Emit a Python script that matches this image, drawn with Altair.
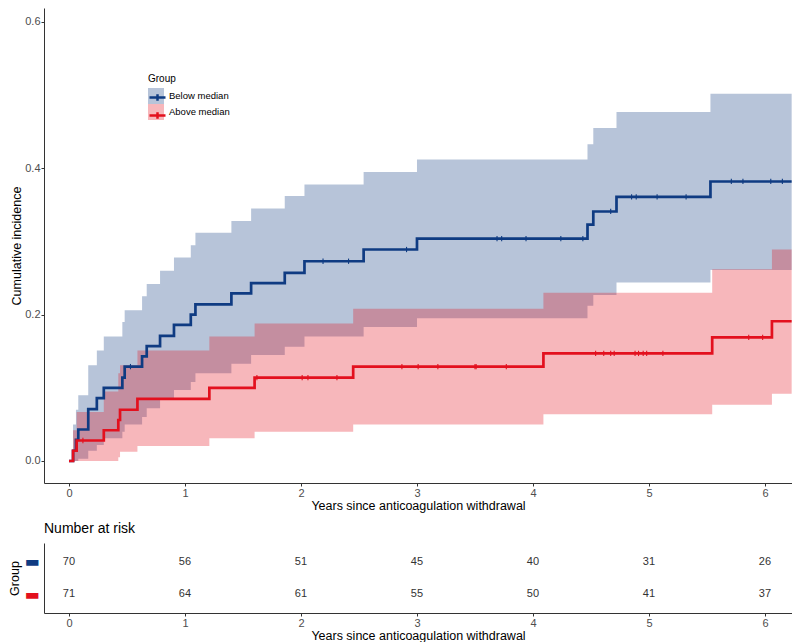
import altair as alt
import pandas as pd

# ---------------- data ----------------
groups = ["Below median", "Above median"]
line_keys = ["Below median ", "Above median "]   # same groups, separate key for the line legend
line_colors = ["#0F3B82", "#E3101E"]

# Below median: step curve of cumulative incidence and its confidence band
below_t = [0, 0.035, 0.06, 0.08, 0.166, 0.24, 0.30, 0.46, 0.48, 0.63, 0.67, 0.785, 0.905,
           1.05, 1.09, 1.40, 1.57, 1.86, 2.03, 2.54, 3.0, 4.47, 4.52, 4.72, 5.53, 6.23]
below_v = [0, 0.014, 0.029, 0.043, 0.071, 0.086, 0.100, 0.114, 0.129, 0.143, 0.157, 0.171, 0.186,
           0.200, 0.214, 0.229, 0.243, 0.257, 0.273, 0.289, 0.304, 0.323, 0.341, 0.361, 0.382, 0.382]
below_lo = [0, 0, 0, 0.003, 0.014, 0.022, 0.031, 0.040, 0.050, 0.060, 0.072, 0.085, 0.097,
            0.108, 0.120, 0.133, 0.145, 0.156, 0.170, 0.183, 0.195, 0.212, 0.227, 0.244, 0.261, 0.261]
below_hi = [0, 0.05, 0.07, 0.09, 0.131, 0.151, 0.170, 0.190, 0.206, 0.225, 0.242, 0.260, 0.278,
            0.295, 0.312, 0.328, 0.345, 0.362, 0.378, 0.395, 0.412, 0.433, 0.455, 0.477, 0.502, 0.502]
below_cens = [0.53, 2.19, 2.41, 2.91, 3.69, 3.73, 3.94, 4.24, 4.43, 4.67, 4.85, 4.89, 5.07,
              5.32, 5.71, 5.81, 6.05, 6.15]

# Above median
above_t = [0, 0.035, 0.066, 0.30, 0.425, 0.44, 0.59, 1.21, 1.60, 2.45, 4.09, 5.545, 6.06, 6.23]
above_v = [0, 0.014, 0.028, 0.042, 0.056, 0.070, 0.085, 0.100, 0.114, 0.129, 0.147, 0.169, 0.191, 0.191]
above_lo = [0, 0, 0, 0, 0.005, 0.0126, 0.0205, 0.031, 0.040, 0.050, 0.064, 0.077, 0.092, 0.092]
above_hi = [0, 0.042, 0.067, 0.095, 0.120, 0.131, 0.151, 0.170, 0.188, 0.208, 0.230, 0.262, 0.289, 0.289]
above_cens = [0.12, 1.62, 2.01, 2.06, 2.31, 2.87, 3.01, 3.18, 3.50, 3.51, 3.77, 4.54, 4.61, 4.67,
              4.70, 4.88, 4.91, 4.95, 4.98, 5.12, 5.86, 5.98]

# Number at risk table
risk_times = [0, 1, 2, 3, 4, 5, 6]
below_risk = [70, 56, 51, 45, 40, 31, 26]
above_risk = [71, 64, 61, 55, 50, 41, 37]

# ---------------- tables ----------------
curve_rows = []
for g, k, ts, vs, los, his in [(groups[0], line_keys[0], below_t, below_v, below_lo, below_hi),
                               (groups[1], line_keys[1], above_t, above_v, above_lo, above_hi)]:
    for t, v, lo, hi in zip(ts, vs, los, his):
        curve_rows.append({"group": g, "line": k, "t": t, "v": v, "lo": lo, "hi": hi})
curves = pd.DataFrame(curve_rows)


def step_value(ts, vs, x):
    val = vs[0]
    for t, v in zip(ts, vs):
        if t <= x:
            val = v
    return val


cens_rows = []
for k, ts, vs, cs in [(line_keys[0], below_t, below_v, below_cens),
                      (line_keys[1], above_t, above_v, above_cens)]:
    for c in cs:
        cens_rows.append({"line": k, "t": c, "v": step_value(ts, vs, c)})
cens = pd.DataFrame(cens_rows)

risk_rows = []
for g, ns in [(groups[0], below_risk), (groups[1], above_risk)]:
    for t, n in zip(risk_times, ns):
        risk_rows.append({"group": g, "t": t, "n": n})
risk = pd.DataFrame(risk_rows)

# ---------------- scales / styles ----------------
FONT = "Liberation Sans"
PLOT_W = 748
x_scale = alt.Scale(domain=[-0.2155, 6.233], nice=False, zero=False)
y_scale = alt.Scale(domain=[-0.0301, 0.6191], nice=False, zero=False)
fill_scale = alt.Scale(domain=groups, range=line_colors)
stroke_scale = alt.Scale(domain=line_keys, range=line_colors)

LEG_X, LEG_Y, LEG_TITLE = 104, 66, 10
fill_legend = alt.Legend(title="Group", orient="none", legendX=LEG_X, legendY=LEG_Y,
                         symbolType="square", symbolSize=256, symbolOpacity=0.3,
                         symbolStrokeWidth=0, titleFontSize=LEG_TITLE, titleFontWeight="normal",
                         titleFont=FONT, labelFont=FONT, labelFontSize=9.5, labelOffset=5,
                         rowPadding=0, titlePadding=4, titleColor="black", labelColor="black")
# line + censor-mark key drawn over the band key (no text of its own)
stroke_legend = alt.Legend(title=None, orient="none", legendX=LEG_X,
                           legendY=LEG_Y + LEG_TITLE + 4,
                           symbolType="M-1,0H1M0,-0.4V0.4", symbolSize=256,
                           symbolStrokeWidth=2.5, symbolFillColor="transparent",
                           labelExpr="''", labelFontSize=9.5, labelOffset=5, rowPadding=0)

x_axis = alt.Axis(title="Years since anticoagulation withdrawal", values=risk_times, format="d",
                  grid=False, domainColor="#333333", tickColor="#333333", tickSize=3,
                  labelPadding=1, labelFontSize=11, labelColor="#4D4D4D", labelFont=FONT,
                  titleFont=FONT, titleFontSize=12.5, titleFontWeight="normal",
                  titlePadding=1, titleColor="black")
y_axis = alt.Axis(title="Cumulative incidence", values=[0, 0.2, 0.4, 0.6], format=".1f",
                  grid=False, domainColor="#333333", tickColor="#333333", tickSize=3,
                  labelPadding=1, labelFontSize=11, labelColor="#4D4D4D", labelFont=FONT,
                  titleFont=FONT, titleFontSize=12.5, titleFontWeight="normal",
                  titlePadding=1, titleColor="black")

base = alt.Chart(curves)
X = alt.X("t:Q", scale=x_scale, axis=x_axis)

bands = []
for g in groups:
    bands.append(
        base.transform_filter(alt.datum.group == g)
        .mark_area(interpolate="step-after", opacity=0.3, clip=True)
        .encode(x=X,
                y=alt.Y("lo:Q", scale=y_scale, axis=y_axis),
                y2="hi:Q",
                fill=alt.Fill("group:N", scale=fill_scale, legend=fill_legend))
    )

lines = base.mark_line(interpolate="step-after", strokeWidth=2.7, clip=True).encode(
    x=X,
    y=alt.Y("v:Q", scale=y_scale, axis=y_axis),
    stroke=alt.Stroke("line:N", scale=stroke_scale, legend=stroke_legend),
)

ticks = alt.Chart(cens).mark_point(shape="M0,-1L0,1", size=28, strokeWidth=1.1,
                                   filled=False, opacity=1, clip=True).encode(
    x=X,
    y=alt.Y("v:Q", scale=y_scale, axis=y_axis),
    stroke=alt.Stroke("line:N", scale=stroke_scale, legend=stroke_legend),
)

main = alt.layer(*bands, lines, ticks).properties(width=PLOT_W, height=475)

# ---------------- risk table ----------------
label_color = {"condition": {"test": "datum.value == 'Below median'", "value": line_colors[0]},
               "value": line_colors[1]}
table = alt.Chart(risk).mark_text(fontSize=11, color="#333333", font=FONT).encode(
    x=alt.X("t:Q", scale=x_scale, axis=x_axis),
    y=alt.Y("group:N", scale=alt.Scale(domain=groups, type="point", padding=0.576),
            axis=alt.Axis(title="Group", ticks=False, labelExpr="'▬'", labelColor=label_color,
                          labelFontSize=16, labelFont="DejaVu Sans", labelPadding=5,
                          domainColor="#333333", titleFont=FONT, titleFontSize=12.5,
                          titleFontWeight="normal", titlePadding=2, titleColor="black")),
    text="n:Q",
).properties(
    width=PLOT_W, height=70,
    title=alt.TitleParams("Number at risk", anchor="start", frame="group", fontSize=14,
                          fontWeight="normal", font=FONT, color="black", offset=7),
)

chart = alt.vconcat(main, table, spacing=10).properties(
    padding={"left": 0, "top": 0, "right": 0, "bottom": 0}
).configure(
    font=FONT, padding={"left": 0, "top": 0, "right": 0, "bottom": 0}
).configure_view(strokeWidth=0, stroke=None)

chart.save("out.html", embed_options={"renderer": "svg", "actions": False})
